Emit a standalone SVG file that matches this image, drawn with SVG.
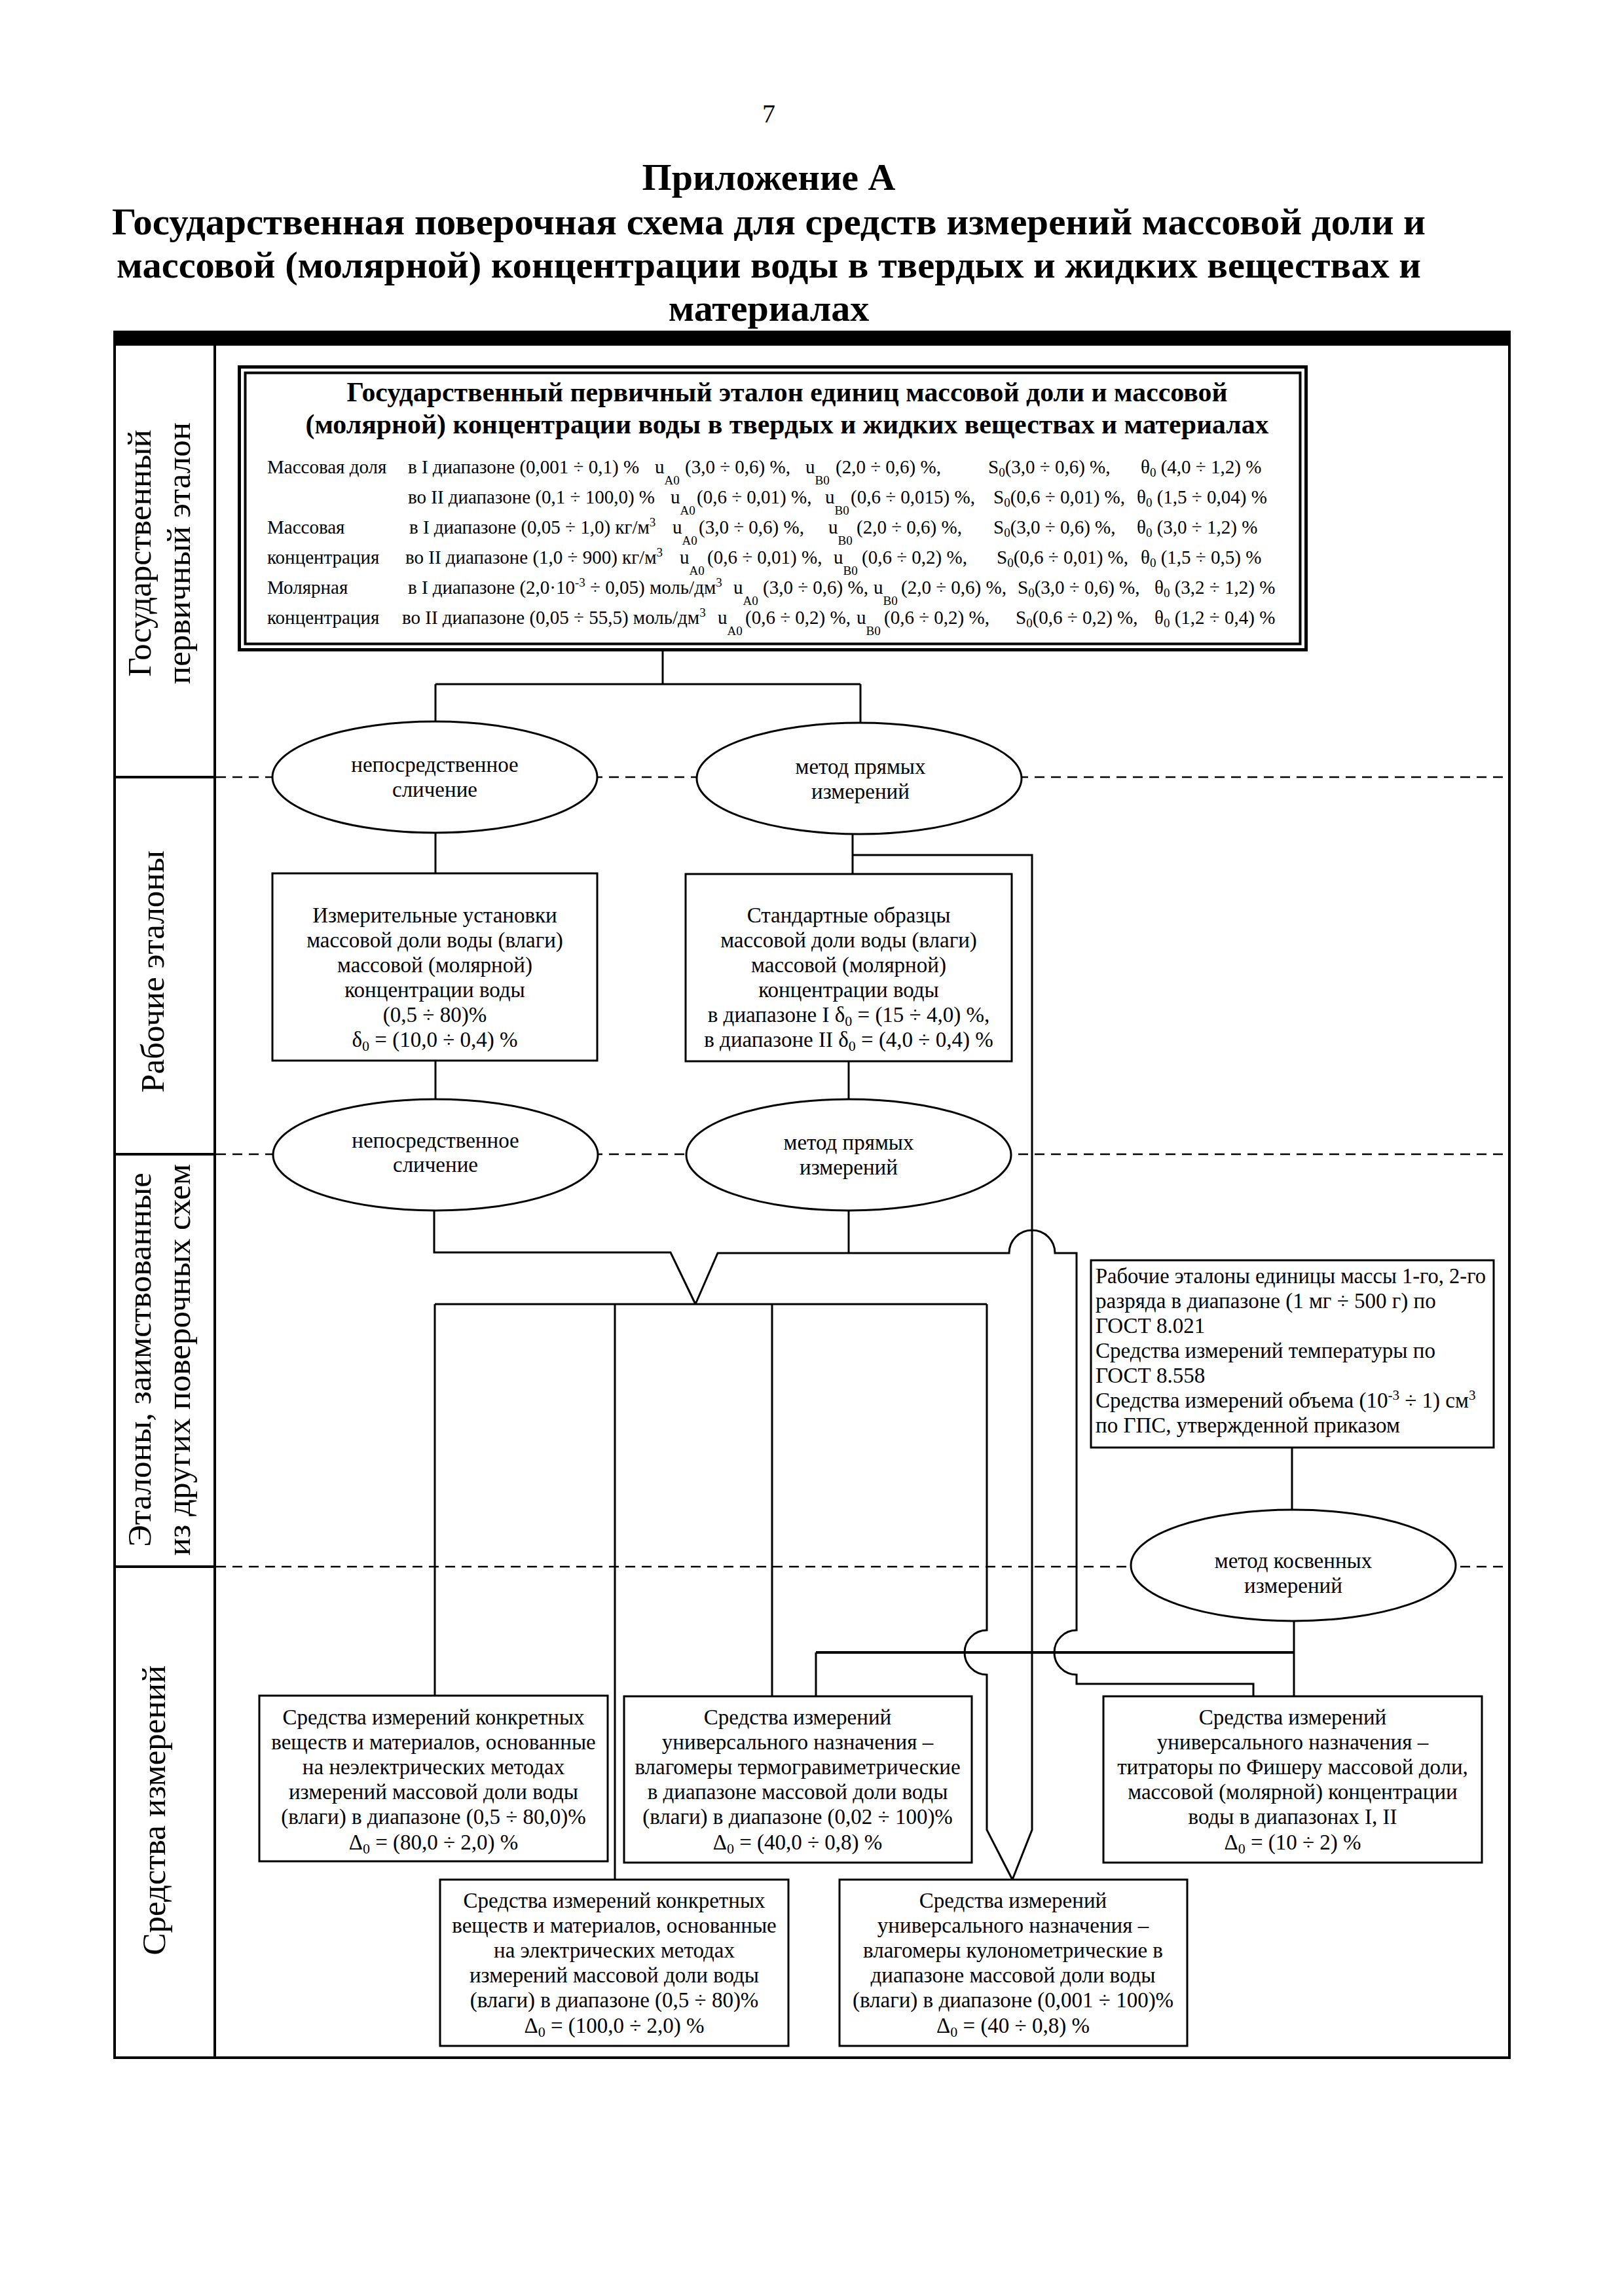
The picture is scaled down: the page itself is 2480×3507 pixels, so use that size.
<svg xmlns="http://www.w3.org/2000/svg" width="2480" height="3507" viewBox="0 0 2480 3507">
<style>
text { font-family: "Liberation Serif", "Times New Roman", serif; fill: #000; }
.b { font-weight: bold; }
.c { text-anchor: middle; }
.body { font-size: 33px; }
.data { font-size: 29px; }
.lbl { font-size: 51px; text-anchor: middle; }
.ln { stroke: #000; stroke-width: 3; fill: none; }
.thin { stroke: #000; stroke-width: 2.5; fill: none; }
.thick { stroke: #000; stroke-width: 4; fill: none; }
.box { fill: #fff; stroke: #000; stroke-width: 3; }
.dash { stroke: #000; stroke-width: 2.5; stroke-dasharray: 15 10; fill: none; }
</style>
<rect width="2480" height="3507" fill="#fff"/>

<!-- header -->
<g id="header">
<text x="1174" y="187" font-size="40" class="c">7</text>
<text x="1174" y="290" font-size="58" class="b c">Приложение А</text>
<text x="1174" y="358" font-size="58" class="b c" textLength="2006" lengthAdjust="spacingAndGlyphs">Государственная поверочная схема для средств измерений массовой доли и</text>
<text x="1174" y="424" font-size="58" class="b c" textLength="1992" lengthAdjust="spacingAndGlyphs">массовой (молярной) концентрации воды в твердых и жидких веществах и</text>
<text x="1174" y="490" font-size="58" class="b c">материалах</text>
</g>

<!-- frame -->
<g id="frame">
<rect x="173" y="505" width="2134" height="23" fill="#000"/>
<path class="thick" d="M175,505 V3143 H2305 V505"/>
<path class="thick" d="M328,528 V3143"/>
<path class="thick" d="M175,1187 H328 M175,1763 H328 M175,2393 H328"/>
<path class="dash" d="M330,1187 H2303 M330,1763 H2303 M330,2393 H2303"/>
</g>

<!-- level labels -->
<g id="labels">
<text class="lbl" x="230" y="845" transform="rotate(-90 230 845)">Государственный</text>
<text class="lbl" x="290" y="845" transform="rotate(-90 290 845)">первичный эталон</text>
<text class="lbl" x="250" y="1484" transform="rotate(-90 250 1484)">Рабочие эталоны</text>
<text class="lbl" x="230" y="2077" transform="rotate(-90 230 2077)">Эталоны, заимствованные</text>
<text class="lbl" x="290" y="2077" transform="rotate(-90 290 2077)">из других поверочных схем</text>
<text class="lbl" x="252" y="2765" transform="rotate(-90 252 2765)">Средства измерений</text>
</g>

<!-- connectors -->
<g id="connectors">
<path class="ln" d="M1012,995 V1045 M665,1045 H1314 M665,1045 V1103 M1314,1045 V1105"/>
<path class="ln" d="M665,1272 V1334"/>
<path class="ln" d="M1302,1274 V1335 M1302,1306 H1576 V2795 L1546,2871"/>
<path class="ln" d="M665,1620 V1679"/>
<path class="ln" d="M1296,1621 V1679"/>
<path class="ln" d="M663,1849 V1913 H1024 L1062,1992"/>
<path class="ln" d="M1296,1849 V1914"/>
<path class="ln" d="M1062,1992 L1096,1914 H1541 A35,35 0 0,1 1611,1914 H1644 V2490 A34,34 0 0,0 1644,2558 V2572 H1914 V2591"/>
<path class="ln" d="M664,1992 H1507"/>
<path class="ln" d="M664,1992 V2590 M939,1992 V2871 M1179,1992 V2591"/>
<path class="ln" d="M1507,1992 V2490 A34,34 0 0,0 1507,2558 V2795 L1546,2871"/>
<path class="ln" d="M1973,2211 V2306"/>
<path class="ln" d="M1976,2476 V2591"/>
<path class="thick" d="M1246,2524 H1976"/>
<path class="ln" d="M1246,2524 V2591"/>
</g>

<!-- primary standard -->
<g id="primary">
<rect x="365.5" y="560.5" width="1629" height="432" fill="#fff" stroke="#000" stroke-width="5"/>
<rect x="374.5" y="569.5" width="1611" height="414" fill="none" stroke="#000" stroke-width="4"/>
<text x="1202" y="613" font-size="42" class="b c" textLength="1345" lengthAdjust="spacingAndGlyphs">Государственный первичный эталон единиц массовой доли и массовой</text>
<text x="1202" y="662" font-size="42" class="b c" textLength="1471" lengthAdjust="spacingAndGlyphs">(молярной) концентрации воды в твердых и жидких веществах и материалах</text>
<g class="data">
<text class="data" x="408" y="723">Массовая доля</text>
<text class="data" x="623" y="723">в I диапазоне (0,001 ÷ 0,1) %</text>
<text class="data" x="1000" y="723">u<tspan font-size="19" dy="17">A0</tspan></text>
<text class="data" x="1046" y="723">(3,0 ÷ 0,6) %,</text>
<text class="data" x="1230" y="723">u<tspan font-size="19" dy="17">B0</tspan></text>
<text class="data" x="1276" y="723">(2,0 ÷ 0,6) %,</text>
<text class="data" x="1509" y="723">S<tspan font-size="19" dy="5">0</tspan><tspan dy="-5">(3,0 ÷ 0,6) %,</tspan></text>
<text class="data" x="1742" y="723">θ<tspan font-size="19" dy="5">0</tspan><tspan dy="-5"> (4,0 ÷ 1,2) %</tspan></text>

<text class="data" x="623" y="769">во II диапазоне (0,1 ÷ 100,0) %</text>
<text class="data" x="1024" y="769">u<tspan font-size="19" dy="17">A0</tspan></text>
<text class="data" x="1064" y="769">(0,6 ÷ 0,01) %,</text>
<text class="data" x="1260" y="769">u<tspan font-size="19" dy="17">B0</tspan></text>
<text class="data" x="1299" y="769">(0,6 ÷ 0,015) %,</text>
<text class="data" x="1517" y="769">S<tspan font-size="19" dy="5">0</tspan><tspan dy="-5">(0,6 ÷ 0,01) %,</tspan></text>
<text class="data" x="1736" y="769">θ<tspan font-size="19" dy="5">0</tspan><tspan dy="-5"> (1,5 ÷ 0,04) %</tspan></text>

<text class="data" x="408" y="815">Массовая</text>
<text class="data" x="625" y="815">в I диапазоне (0,05 ÷ 1,0) кг/м<tspan font-size="19" dy="-11">3</tspan></text>
<text class="data" x="1027" y="815">u<tspan font-size="19" dy="17">A0</tspan></text>
<text class="data" x="1067" y="815">(3,0 ÷ 0,6) %,</text>
<text class="data" x="1265" y="815">u<tspan font-size="19" dy="17">B0</tspan></text>
<text class="data" x="1308" y="815">(2,0 ÷ 0,6) %,</text>
<text class="data" x="1517" y="815">S<tspan font-size="19" dy="5">0</tspan><tspan dy="-5">(3,0 ÷ 0,6) %,</tspan></text>
<text class="data" x="1736" y="815">θ<tspan font-size="19" dy="5">0</tspan><tspan dy="-5"> (3,0 ÷ 1,2) %</tspan></text>

<text class="data" x="408" y="861">концентрация</text>
<text class="data" x="619" y="861">во II диапазоне (1,0 ÷ 900) кг/м<tspan font-size="19" dy="-11">3</tspan></text>
<text class="data" x="1038" y="861">u<tspan font-size="19" dy="17">A0</tspan></text>
<text class="data" x="1080" y="861">(0,6 ÷ 0,01) %,</text>
<text class="data" x="1273" y="861">u<tspan font-size="19" dy="17">B0</tspan></text>
<text class="data" x="1316" y="861">(0,6 ÷ 0,2) %,</text>
<text class="data" x="1522" y="861">S<tspan font-size="19" dy="5">0</tspan><tspan dy="-5">(0,6 ÷ 0,01) %,</tspan></text>
<text class="data" x="1742" y="861">θ<tspan font-size="19" dy="5">0</tspan><tspan dy="-5"> (1,5 ÷ 0,5) %</tspan></text>

<text class="data" x="408" y="907">Молярная</text>
<text class="data" x="623" y="907">в I диапазоне (2,0·10<tspan font-size="19" dy="-11">-3</tspan><tspan dy="11"> ÷ 0,05) моль/дм</tspan><tspan font-size="19" dy="-11">3</tspan></text>
<text class="data" x="1120" y="907">u<tspan font-size="19" dy="17">A0</tspan></text>
<text class="data" x="1165" y="907">(3,0 ÷ 0,6) %,</text>
<text class="data" x="1334" y="907">u<tspan font-size="19" dy="17">B0</tspan></text>
<text class="data" x="1376" y="907">(2,0 ÷ 0,6) %,</text>
<text class="data" x="1554" y="907">S<tspan font-size="19" dy="5">0</tspan><tspan dy="-5">(3,0 ÷ 0,6) %,</tspan></text>
<text class="data" x="1763" y="907">θ<tspan font-size="19" dy="5">0</tspan><tspan dy="-5"> (3,2 ÷ 1,2) %</tspan></text>

<text class="data" x="408" y="953">концентрация</text>
<text class="data" x="614" y="953">во II диапазоне (0,05 ÷ 55,5) моль/дм<tspan font-size="19" dy="-11">3</tspan></text>
<text class="data" x="1096" y="953">u<tspan font-size="19" dy="17">A0</tspan></text>
<text class="data" x="1138" y="953">(0,6 ÷ 0,2) %,</text>
<text class="data" x="1308" y="953">u<tspan font-size="19" dy="17">B0</tspan></text>
<text class="data" x="1350" y="953">(0,6 ÷ 0,2) %,</text>
<text class="data" x="1551" y="953">S<tspan font-size="19" dy="5">0</tspan><tspan dy="-5">(0,6 ÷ 0,2) %,</tspan></text>
<text class="data" x="1763" y="953">θ<tspan font-size="19" dy="5">0</tspan><tspan dy="-5"> (1,2 ÷ 0,4) %</tspan></text>
</g>
</g>

<!-- methods, level 1 -->
<g id="m1">
<ellipse class="box" cx="664" cy="1187" rx="248" ry="85"/>
<text class="body c" x="664" y="1179">непосредственное</text>
<text class="body c" x="664" y="1217">сличение</text>
</g>
<g id="m2">
<ellipse class="box" cx="1312" cy="1189" rx="248" ry="85"/>
<text class="body c" x="1314" y="1182">метод прямых</text>
<text class="body c" x="1314" y="1220">измерений</text>
</g>

<!-- working standards -->
<g id="ws1">
<rect class="box" x="416" y="1334" width="496" height="286"/>
<text class="body c" x="664" y="1409">Измерительные установки</text>
<text class="body c" x="664" y="1447">массовой доли воды (влаги)</text>
<text class="body c" x="664" y="1485">массовой (молярной)</text>
<text class="body c" x="664" y="1523">концентрации воды</text>
<text class="body c" x="664" y="1561">(0,5 ÷ 80)%</text>
<text class="body c" x="664" y="1599">δ<tspan font-size="22" dy="6">0</tspan><tspan dy="-6"> = (10,0 ÷ 0,4) %</tspan></text>
</g>
<g id="ws2">
<rect class="box" x="1047" y="1335" width="498" height="286"/>
<text class="body c" x="1296" y="1409">Стандартные образцы</text>
<text class="body c" x="1296" y="1447">массовой доли воды (влаги)</text>
<text class="body c" x="1296" y="1485">массовой (молярной)</text>
<text class="body c" x="1296" y="1523">концентрации воды</text>
<text class="body c" x="1296" y="1561">в диапазоне I δ<tspan font-size="22" dy="6">0</tspan><tspan dy="-6"> = (15 ÷ 4,0) %,</tspan></text>
<text class="body c" x="1296" y="1599">в диапазоне II δ<tspan font-size="22" dy="6">0</tspan><tspan dy="-6"> = (4,0 ÷ 0,4) %</tspan></text>
</g>

<!-- methods, level 2 -->
<g id="m3">
<ellipse class="box" cx="665" cy="1764" rx="248" ry="85"/>
<text class="body c" x="665" y="1753">непосредственное</text>
<text class="body c" x="665" y="1790">сличение</text>
</g>
<g id="m4">
<ellipse class="box" cx="1296" cy="1764" rx="248" ry="85"/>
<text class="body c" x="1296" y="1756">метод прямых</text>
<text class="body c" x="1296" y="1794">измерений</text>
</g>

<!-- borrowed standards -->
<g id="borrowed">
<rect class="box" x="1666" y="1925" width="615" height="286"/>
<text class="body" x="1673" y="1960" textLength="596" lengthAdjust="spacingAndGlyphs">Рабочие эталоны единицы массы 1-го, 2-го</text>
<text class="body" x="1673" y="1998">разряда в диапазоне (1 мг ÷ 500 г) по</text>
<text class="body" x="1673" y="2036">ГОСТ 8.021</text>
<text class="body" x="1673" y="2074">Средства измерений температуры по</text>
<text class="body" x="1673" y="2112">ГОСТ 8.558</text>
<text class="body" x="1673" y="2150">Средства измерений объема (10<tspan font-size="21" dy="-12">-3</tspan><tspan dy="12"> ÷ 1) см</tspan><tspan font-size="21" dy="-12">3</tspan></text>
<text class="body" x="1673" y="2188">по ГПС, утвержденной приказом</text>
</g>
<g id="m5">
<ellipse class="box" cx="1975" cy="2391" rx="248" ry="85"/>
<text class="body c" x="1975" y="2395">метод косвенных</text>
<text class="body c" x="1975" y="2433">измерений</text>
</g>

<!-- measuring instruments -->
<g id="mi1">
<rect class="box" x="396" y="2590" width="532" height="253"/>
<text class="body c" x="662" y="2634">Средства измерений конкретных</text>
<text class="body c" x="662" y="2672">веществ и материалов, основанные</text>
<text class="body c" x="662" y="2710">на неэлектрических методах</text>
<text class="body c" x="662" y="2748">измерений массовой доли воды</text>
<text class="body c" x="662" y="2786">(влаги) в диапазоне (0,5 ÷ 80,0)%</text>
<text class="body c" x="662" y="2825">Δ<tspan font-size="22" dy="6">0</tspan><tspan dy="-6"> = (80,0 ÷ 2,0) %</tspan></text>
</g>
<g id="mi2">
<rect class="box" x="953" y="2591" width="531" height="254"/>
<text class="body c" x="1218" y="2634">Средства измерений</text>
<text class="body c" x="1218" y="2672">универсального назначения –</text>
<text class="body c" x="1218" y="2710">влагомеры термогравиметрические</text>
<text class="body c" x="1218" y="2748">в диапазоне массовой доли воды</text>
<text class="body c" x="1218" y="2786">(влаги) в диапазоне (0,02 ÷ 100)%</text>
<text class="body c" x="1218" y="2825">Δ<tspan font-size="22" dy="6">0</tspan><tspan dy="-6"> = (40,0 ÷ 0,8) %</tspan></text>
</g>
<g id="mi3">
<rect class="box" x="1685" y="2591" width="578" height="254"/>
<text class="body c" x="1974" y="2634">Средства измерений</text>
<text class="body c" x="1974" y="2672">универсального назначения –</text>
<text class="body c" x="1974" y="2710">титраторы по Фишеру массовой доли,</text>
<text class="body c" x="1974" y="2748">массовой (молярной) концентрации</text>
<text class="body c" x="1974" y="2786">воды в диапазонах I, II</text>
<text class="body c" x="1974" y="2825">Δ<tspan font-size="22" dy="6">0</tspan><tspan dy="-6"> = (10 ÷ 2) %</tspan></text>
</g>
<g id="mi4">
<rect class="box" x="672" y="2871" width="532" height="254"/>
<text class="body c" x="938" y="2914">Средства измерений конкретных</text>
<text class="body c" x="938" y="2952">веществ и материалов, основанные</text>
<text class="body c" x="938" y="2990">на электрических методах</text>
<text class="body c" x="938" y="3028">измерений массовой доли воды</text>
<text class="body c" x="938" y="3066">(влаги) в диапазоне (0,5 ÷ 80)%</text>
<text class="body c" x="938" y="3105">Δ<tspan font-size="22" dy="6">0</tspan><tspan dy="-6"> = (100,0 ÷ 2,0) %</tspan></text>
</g>
<g id="mi5">
<rect class="box" x="1282" y="2871" width="531" height="254"/>
<text class="body c" x="1547" y="2914">Средства измерений</text>
<text class="body c" x="1547" y="2952">универсального назначения –</text>
<text class="body c" x="1547" y="2990">влагомеры кулонометрические в</text>
<text class="body c" x="1547" y="3028">диапазоне массовой доли воды</text>
<text class="body c" x="1547" y="3066">(влаги) в диапазоне (0,001 ÷ 100)%</text>
<text class="body c" x="1547" y="3105">Δ<tspan font-size="22" dy="6">0</tspan><tspan dy="-6"> = (40 ÷ 0,8) %</tspan></text>
</g>
</svg>
